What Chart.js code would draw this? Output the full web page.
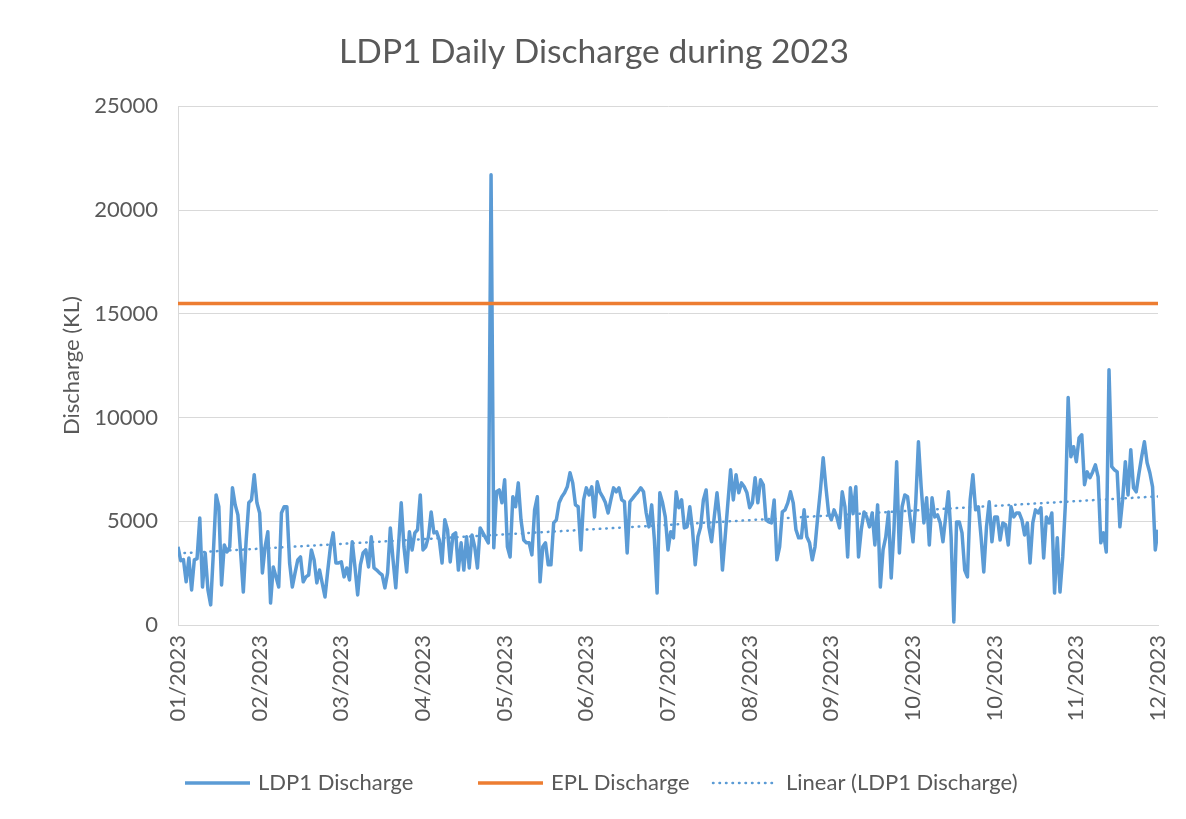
<!DOCTYPE html>
<html>
<head>
<meta charset="utf-8">
<script src="https://cdn.jsdelivr.net/npm/chart.js@4.4.0/dist/chart.umd.min.js"></script>
<style>
  html, body { margin: 0; padding: 0; background: #ffffff; }
  canvas { display: block; }
</style>
</head>
<body>
<canvas id="chart" width="1186" height="819"></canvas>
<script>
// Axis labels along the date axis, one every 30 days
const monthLabels = ['01/2023', '02/2023', '03/2023', '04/2023', '05/2023', '06/2023',
  '07/2023', '08/2023', '09/2023', '10/2023', '10/2023', '11/2023', '12/2023'];
const labelStepDays = 30;

// LDP1 daily discharge (KL), one value per day
const ldp1Discharge = [
  3770, 3100, 3150, 2080, 3230, 1690, 3140, 3200, 5160, 1830, 3470, 1690, 970, 3500, 6270, 5700,
  1930, 3860, 3520, 3760, 6610, 5800, 5310, 3500, 1590, 4000, 5890, 6030, 7240, 5890, 5400,
  2510, 3770, 4490, 1060, 2800, 2320, 1830, 5400, 5700, 5700, 2990, 1830, 2510, 3140, 3280, 2080,
  2320, 2410, 3620, 3140, 2030, 2650, 2000, 1350, 2600, 3770, 4440, 2990, 2990, 3040, 2320, 2750, 2170,
  4010, 2800, 1450, 2900, 3470, 3620, 2800, 4250, 2750, 2650, 2510, 2410, 1790, 2510, 4680, 3140,
  1790, 3800, 5890, 3770, 2560, 4490, 3620, 4440, 4590, 6270, 3620, 3770, 4250, 5450, 4440,
  4490, 4100, 2990, 5070, 4590, 3040, 4340, 4440, 2650, 3960, 2650, 4250, 2750, 4340, 3770, 2750,
  4680, 4440, 4200, 3960, 21700, 3720, 6420, 6510, 5890, 7000,
  3770, 3280, 6180, 5700, 6850, 5070, 4100, 3960, 3960, 3380, 5550, 6180, 2080, 3770, 3960, 2900,
  2900, 4920, 5070, 5890, 6180, 6370, 6660, 7340, 6850, 5790, 5700, 3620, 6030, 6610, 6270, 6660,
  5210, 6900,
  6400, 6180, 5900, 5400, 6030, 6610, 6420, 6610, 6030, 5940, 3470, 5940, 6100, 6270, 6420, 6610,
  6420, 5400, 4730, 5790, 4100, 1540, 6370, 5890, 5210, 3620, 4490, 4200, 6420, 5650, 6030, 4680,
  4730, 5700, 4590, 2900, 4250, 4730, 6030, 6510, 4730, 4010, 5210, 6370, 5070, 2650, 4250, 5890,
  7480, 6030, 7240, 6370, 6850, 6660, 6370, 5650, 5890, 7100, 5890, 7000, 6760,
  5070, 4970, 4920, 6030, 3140, 3770, 5450, 5550, 5890, 6420, 5890, 4590, 4200, 4200, 5550, 4250,
  3960, 3140, 3770, 5210, 6510, 8060, 6660, 5400, 5070, 5550, 5210, 4680, 6420, 5700,
  3280, 6610, 5400, 6660, 3280, 4590, 5450, 5210, 4730, 5400, 3860, 5790, 1830, 3620, 4250, 5450,
  2270, 4590, 7870, 3470, 5700, 6270, 6180, 5070, 4010, 5890, 8830, 6660, 4920, 6130, 3860, 6130,
  5210, 5310, 4920, 4010, 5210, 6420, 4250, 150, 4970, 4970, 4440, 2650, 2320, 6030, 7240, 5550,
  5700, 4250, 2560, 4730, 5940, 4010, 5210, 5210, 4100, 4920, 4830, 3860, 5700,
  5210, 5400, 5400, 5070, 4340, 4920, 2990, 4920, 5550, 5400, 5650, 3230, 5210, 4920, 5400, 1540,
  4200, 1590, 3280, 5890, 10960, 8110, 8590, 7870, 9020, 9170, 6760, 7380, 7100, 7380, 7720,
  7140, 3960, 4440, 3520, 12300, 7630, 7480, 7380, 4730, 6030, 7870, 6270, 8450, 6610, 6420, 7300,
  8110, 8830, 7820, 7340, 6660, 3620, 4590
];

// EPL discharge reference level (KL)
const eplDischarge = 15500;

// Linear trend of LDP1 discharge: value at first and last day
const trendStart = 3450;
const trendEnd = 6200;

const yTicks = [0, 5000, 10000, 15000, 20000, 25000];

const lastDay = ldp1Discharge.length - 1;
const textColor = '#595959';
const gridColor = '#d9d9d9';
const blue = '#5b9bd5';
const orange = '#ed7d31';
const fontStack = 'Lato, "Open Sans", sans-serif';

Chart.defaults.font.family = fontStack;
Chart.defaults.color = textColor;

// Legend drawn along the bottom with line samples
const bottomLegend = {
  id: 'bottomLegend',
  afterDraw(chart) {
    const ctx = chart.ctx;
    const sets = chart.data.datasets;
    const starts = [185, 478, 713];
    const sampleW = 65, gap = 8, y = 783;
    ctx.save();
    ctx.font = '22px ' + fontStack;
    sets.forEach((ds, i) => {
      const x = starts[i];
      ctx.beginPath();
      ctx.strokeStyle = ds.borderColor;
      ctx.lineWidth = ds.borderWidth;
      ctx.lineCap = ds.borderCapStyle || 'butt';
      ctx.setLineDash(ds.borderDash || []);
      ctx.moveTo(x, y);
      ctx.lineTo(x + sampleW, y);
      ctx.stroke();
      ctx.setLineDash([]);
      ctx.fillStyle = textColor;
      ctx.textBaseline = 'middle';
      ctx.textAlign = 'left';
      ctx.fillText(ds.label, x + sampleW + gap, y);
    });
    ctx.restore();
  }
};

new Chart(document.getElementById('chart'), {
  type: 'line',
  data: {
    datasets: [
      {
        label: 'LDP1 Discharge',
        data: ldp1Discharge.map((v, i) => ({ x: i, y: v })),
        borderColor: blue,
        borderWidth: 3.5,
        borderJoinStyle: 'round',
        pointRadius: 0,
        tension: 0,
        order: 3
      },
      {
        label: 'EPL Discharge',
        data: [{ x: 0, y: eplDischarge }, { x: lastDay, y: eplDischarge }],
        borderColor: orange,
        borderWidth: 3.5,
        pointRadius: 0,
        order: 2
      },
      {
        label: 'Linear (LDP1 Discharge)',
        data: [{ x: 0, y: trendStart }, { x: lastDay, y: trendEnd }],
        borderColor: blue,
        borderWidth: 2.5,
        borderDash: [0.5, 6],
        borderCapStyle: 'round',
        pointRadius: 0,
        order: 1
      }
    ]
  },
  options: {
    responsive: false,
    animation: false,
    layout: { padding: { left: 30, right: 28, top: 0, bottom: 94 } },
    plugins: {
      legend: { display: false },
      tooltip: { enabled: false },
      title: {
        display: true,
        text: 'LDP1 Daily Discharge during 2023',
        color: textColor,
        font: { size: 33.6, weight: 'normal' },
        padding: { top: 32, bottom: 34 }
      }
    },
    scales: {
      x: {
        type: 'linear',
        min: 0,
        max: lastDay,
        grid: { display: false, drawTicks: false },
        border: { display: true, color: gridColor, width: 1 },
        afterBuildTicks: s => { s.ticks = monthLabels.map((_, i) => ({ value: i * labelStepDays })); },
        afterFit: s => { s.height = 100; s.paddingLeft = 0; s.paddingRight = 0; },
        ticks: {
          autoSkip: false,
          maxRotation: 90,
          minRotation: 90,
          padding: 10,
          color: textColor,
          font: { size: 22 },
          callback: v => monthLabels[Math.round(v / labelStepDays)]
        }
      },
      y: {
        min: 0,
        max: 25000,
        afterBuildTicks: s => { s.ticks = yTicks.map(v => ({ value: v })); },
        afterFit: s => { s.width = 148; },
        grid: { color: gridColor, lineWidth: 1, drawTicks: false },
        border: { display: true, color: gridColor, width: 1 },
        ticks: {
          padding: 20,
          color: textColor,
          font: { size: 22 },
          callback: v => String(v)
        },
        title: {
          display: true,
          text: 'Discharge (KL)',
          color: textColor,
          font: { size: 22 },
          padding: { top: 29, bottom: 4 }
        }
      }
    }
  },
  plugins: [bottomLegend]
});
</script>
</body>
</html>
